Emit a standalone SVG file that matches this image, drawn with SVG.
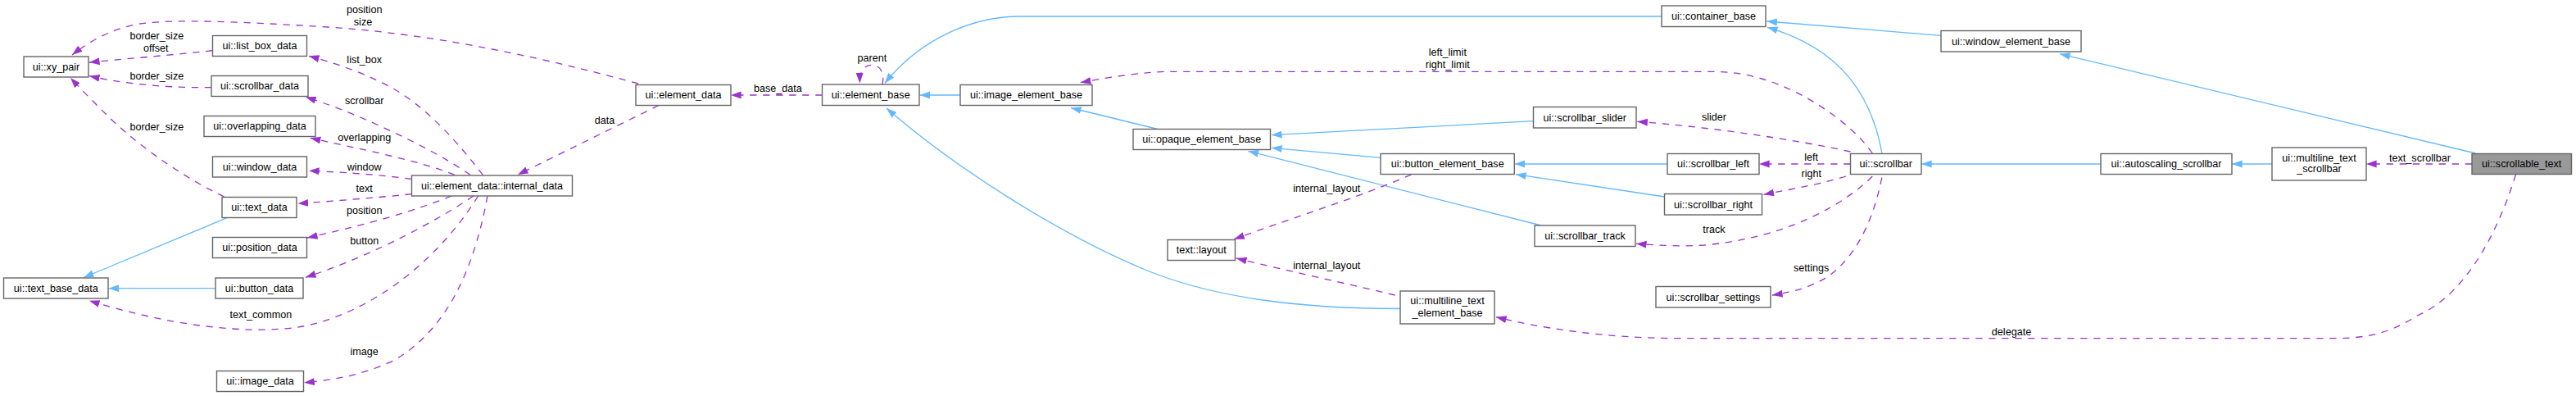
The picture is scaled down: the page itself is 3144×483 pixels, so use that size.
<svg xmlns="http://www.w3.org/2000/svg" width="3144" height="483" viewBox="0 0 3144 483">
<style>
text{font-family:"Liberation Sans",Arial,Helvetica,sans-serif;font-size:12.6px;fill:#000;text-anchor:middle}
.node rect{fill:#fff;stroke:#666;stroke-width:1.4}
#n_scrollable_text rect{fill:#999}
.inh{fill:none;stroke:#63b8ff;stroke-width:1.3;marker-end:url(#ab)}
.use{fill:none;stroke:#9a32cd;stroke-width:1.3;stroke-dasharray:8.3,7.7;marker-end:url(#ap)}
</style>
<defs>
<marker id="ab" markerUnits="userSpaceOnUse" markerWidth="14" markerHeight="10" refX="12.6" refY="4.5" orient="auto"><path d="M0,0 L12.6,4.5 L0,9 z" fill="#63b8ff"/></marker>
<marker id="ap" markerUnits="userSpaceOnUse" markerWidth="14" markerHeight="10" refX="12.6" refY="4.5" orient="auto"><path d="M0,0 L12.6,4.5 L0,9 z" fill="#9a32cd"/></marker>
</defs>
<rect width="3144" height="483" fill="#fff"/>
<g id="edges">
<path class="inh" d="M277,265.7 L102,338.5"/>
<path class="inh" d="M263,351.7 L132.5,351.7"/>
<path class="inh" d="M1172,116 L1122.5,116"/>
<path class="inh" d="M1413,157.5 L1307,131.5"/>
<path class="inh" d="M2028,20 L1245,20 C1190,20 1125,45 1080,101.5"/>
<path class="inh" d="M1709,376.5 C1580,376.5 1480,362 1400,330 C1290,285 1160,200 1082,132"/>
<path class="inh" d="M1685,192.3 L1552,180.3"/>
<path class="inh" d="M1871.5,147.7 L1552,164.7"/>
<path class="inh" d="M1881,275 L1523.5,184.3"/>
<path class="inh" d="M2035,200 L1848.5,200"/>
<path class="inh" d="M2031.6,240 L1850,212.7"/>
<path class="inh" d="M2297,187.3 C2285,120 2250,60 2157,33.3"/>
<path class="inh" d="M2369,43.3 L2156.3,26"/>
<path class="inh" d="M2564,200 L2345,200"/>
<path class="inh" d="M2773,200 L2724,200"/>
<path class="inh" d="M3021.5,187 L2514,65.7"/>

<path class="use" d="M779,102 C680,75 540,42 400,33 C300,27 210,22 165,30 C135,36 110,50 88,67"/>
<text x="444.7" y="16">position</text><text x="443" y="31">size</text>
<path class="use" d="M259.4,61.7 C200,68 150,72 109,76"/>
<text x="191.3" y="47.6">border_size</text><text x="190.2" y="62.6">offset</text>
<path class="use" d="M258,106.7 C210,107 160,104 109,92.7"/>
<text x="191.3" y="97">border_size</text>
<path class="use" d="M273.6,240 C215,212 160,170 130,140 C115,125 100,110 86,95"/>
<text x="191.3" y="158.6">border_size</text>
<path class="use" d="M589.3,213.3 C560,175 520,130 478,107 C450,92 420,80 377,68.3"/>
<text x="444.7" y="77">list_box</text>
<path class="use" d="M574,213.3 C540,190 500,170 460,152 C430,138 400,127 373,118.3"/>
<text x="444.7" y="126.6">scrollbar</text>
<path class="use" d="M554.9,213.3 C510,195 430,180 378.8,168.3"/>
<text x="444.7" y="172">overlapping</text>
<path class="use" d="M502.5,218.3 C460,213 420,210 377,208.3"/>
<text x="444.7" y="207.6">window</text>
<path class="use" d="M502.5,236.7 C460,241 410,245 363.5,248.3"/>
<text x="444.7" y="234.3">text</text>
<path class="use" d="M551,239 C500,260 430,278 375,290"/>
<text x="444.7" y="261">position</text>
<path class="use" d="M577.8,239 C540,265 460,310 373,338.3"/>
<text x="444.7" y="298.3">button</text>
<path class="use" d="M583.6,239 C540,310 460,380 370,398 C300,410 200,395 109,366.7"/>
<text x="318.4" y="387.6">text_common</text>
<path class="use" d="M595,239 C580,320 550,400 480,440 C440,458 410,463 371.2,466.7"/>
<text x="444.7" y="432.6">image</text>
<path class="use" d="M804,128.5 L632,213"/>
<text x="738" y="151">data</text>
<path class="use" d="M1003.5,116 L892,116"/>
<text x="949.3" y="111.7">base_data</text>
<path class="use" d="M1076.7,103 C1080,92 1076,80 1065,79.3 C1055,79 1049,86 1049.5,101.5"/>
<text x="1064.3" y="75">parent</text>
<path class="use" d="M2285.3,187 C2260,150 2200,110 2150,96 C2130,90 2110,87.3 2090,87.3 L1430,87.3 C1400,87.3 1360,93 1318.8,100.7"/>
<text x="1766.8" y="67.6">left_limit</text><text x="1766.8" y="82.6">right_limit</text>
<path class="use" d="M2258.5,185 C2190,170 2080,154 1998.3,148.3"/>
<text x="2092" y="147">slider</text>
<path class="use" d="M2258.5,200 L2147,200"/>
<text x="2210.7" y="196">left</text>
<path class="use" d="M2253,215 C2220,225 2190,230 2152.5,237.3"/>
<text x="2210.7" y="216">right</text>
<path class="use" d="M2285.3,215 C2250,250 2180,290 2080,299 C2050,301 2020,299 1997,297.3"/>
<text x="2092" y="283.6">track</text>
<path class="use" d="M2296.8,216.7 C2288,260 2270,310 2230,338 C2210,350 2190,356 2163,360"/>
<text x="2210.7" y="331">settings</text>
<path class="use" d="M1722.5,213 C1660,240 1580,265 1506.3,291.7"/>
<text x="1619.2" y="233.6">internal_layout</text>
<path class="use" d="M1702.6,360 C1640,345 1570,330 1509,315"/>
<text x="1619.2" y="328.3">internal_layout</text>
<path class="use" d="M3070.4,213 C3050,280 3010,360 2950,385 C2920,405 2890,412.7 2850,412.7 L2050,412.7 C1960,412.7 1880,400 1826,386.7"/>
<text x="2455" y="409.3">delegate</text>
<path class="use" d="M3017,200 L2888,200"/>
<text x="2953.5" y="196.5">text_scrollbar</text>
</g>

<g id="n_xy_pair" class="node"><rect x="29" y="69" width="79" height="25"/><text x="68.5" y="85.8">ui::xy_pair</text></g>
<g id="n_list_box_data" class="node"><rect x="259.5" y="43.5" width="115" height="25"/><text x="317" y="60.3">ui::list_box_data</text></g>
<g id="n_scrollbar_data" class="node"><rect x="258" y="92.5" width="118" height="25"/><text x="317" y="109.3">ui::scrollbar_data</text></g>
<g id="n_overlapping_data" class="node"><rect x="249" y="141.5" width="136" height="25"/><text x="317" y="158.3">ui::overlapping_data</text></g>
<g id="n_window_data" class="node"><rect x="259.5" y="191" width="115" height="25"/><text x="317" y="207.8">ui::window_data</text></g>
<g id="n_text_data" class="node"><rect x="271" y="240.5" width="91" height="25"/><text x="316.5" y="257.3">ui::text_data</text></g>
<g id="n_position_data" class="node"><rect x="259.5" y="289.5" width="115" height="25"/><text x="317" y="306.3">ui::position_data</text></g>
<g id="n_button_data" class="node"><rect x="263" y="339" width="107" height="25"/><text x="316.5" y="355.8">ui::button_data</text></g>
<g id="n_image_data" class="node"><rect x="264.5" y="452.5" width="106" height="25"/><text x="317.5" y="469.3">ui::image_data</text></g>
<g id="n_text_base_data" class="node"><rect x="4.5" y="339" width="127.5" height="25"/><text x="68.3" y="355.8">ui::text_base_data</text></g>
<g id="n_internal_data" class="node"><rect x="502.5" y="214" width="196" height="25"/><text x="600.5" y="230.8">ui::element_data::internal_data</text></g>
<g id="n_element_data" class="node"><rect x="776" y="103.5" width="116" height="25"/><text x="834" y="120.3">ui::element_data</text></g>
<g id="n_element_base" class="node"><rect x="1003.5" y="103" width="118.5" height="25.5"/><text x="1062.7" y="120">ui::element_base</text></g>
<g id="n_image_element_base" class="node"><rect x="1172" y="103.5" width="161" height="25"/><text x="1252.5" y="120.3">ui::image_element_base</text></g>
<g id="n_opaque_element_base" class="node"><rect x="1383" y="157.5" width="167.5" height="25"/><text x="1466.7" y="174.3">ui::opaque_element_base</text></g>
<g id="n_text_layout" class="node"><rect x="1425" y="292.5" width="82.5" height="25"/><text x="1466.2" y="309.3">text::layout</text></g>
<g id="n_button_element_base" class="node"><rect x="1685" y="187.5" width="163.3" height="25"/><text x="1766.7" y="204.3">ui::button_element_base</text></g>
<g id="n_multiline_text_element_base" class="node"><rect x="1709" y="355" width="115" height="40"/><text x="1766.5" y="371.3">ui::multiline_text</text><text x="1766.5" y="385.6">_element_base</text></g>
<g id="n_container_base" class="node"><rect x="2028" y="7" width="127" height="25.5"/><text x="2091.5" y="24">ui::container_base</text></g>
<g id="n_scrollbar_slider" class="node"><rect x="1871.5" y="130.5" width="125.5" height="25.5"/><text x="1934.3" y="147.5">ui::scrollbar_slider</text></g>
<g id="n_scrollbar_left" class="node"><rect x="2035" y="187.5" width="112" height="25"/><text x="2091" y="204.3">ui::scrollbar_left</text></g>
<g id="n_scrollbar_right" class="node"><rect x="2031.5" y="236.5" width="119" height="25.5"/><text x="2091" y="253.5">ui::scrollbar_right</text></g>
<g id="n_scrollbar_track" class="node"><rect x="1873" y="275" width="123" height="25.5"/><text x="1934.5" y="292">ui::scrollbar_track</text></g>
<g id="n_scrollbar_settings" class="node"><rect x="2021" y="349.5" width="140" height="25.5"/><text x="2091" y="366.5">ui::scrollbar_settings</text></g>
<g id="n_scrollbar" class="node"><rect x="2258.5" y="187.5" width="86.5" height="25"/><text x="2301.7" y="204.3">ui::scrollbar</text></g>
<g id="n_window_element_base" class="node"><rect x="2369" y="37.5" width="171" height="25.5"/><text x="2454.5" y="54.5">ui::window_element_base</text></g>
<g id="n_autoscaling_scrollbar" class="node"><rect x="2564" y="187.5" width="160" height="25"/><text x="2644" y="204.3">ui::autoscaling_scrollbar</text></g>
<g id="n_multiline_text_scrollbar" class="node"><rect x="2773" y="180" width="115" height="40"/><text x="2830.5" y="196.5">ui::multiline_text</text><text x="2830.5" y="210">_scrollbar</text></g>
<g id="n_scrollable_text" class="node"><rect x="3017" y="187.5" width="121.5" height="25"/><text x="3077.7" y="204.3">ui::scrollable_text</text></g>
</svg>
